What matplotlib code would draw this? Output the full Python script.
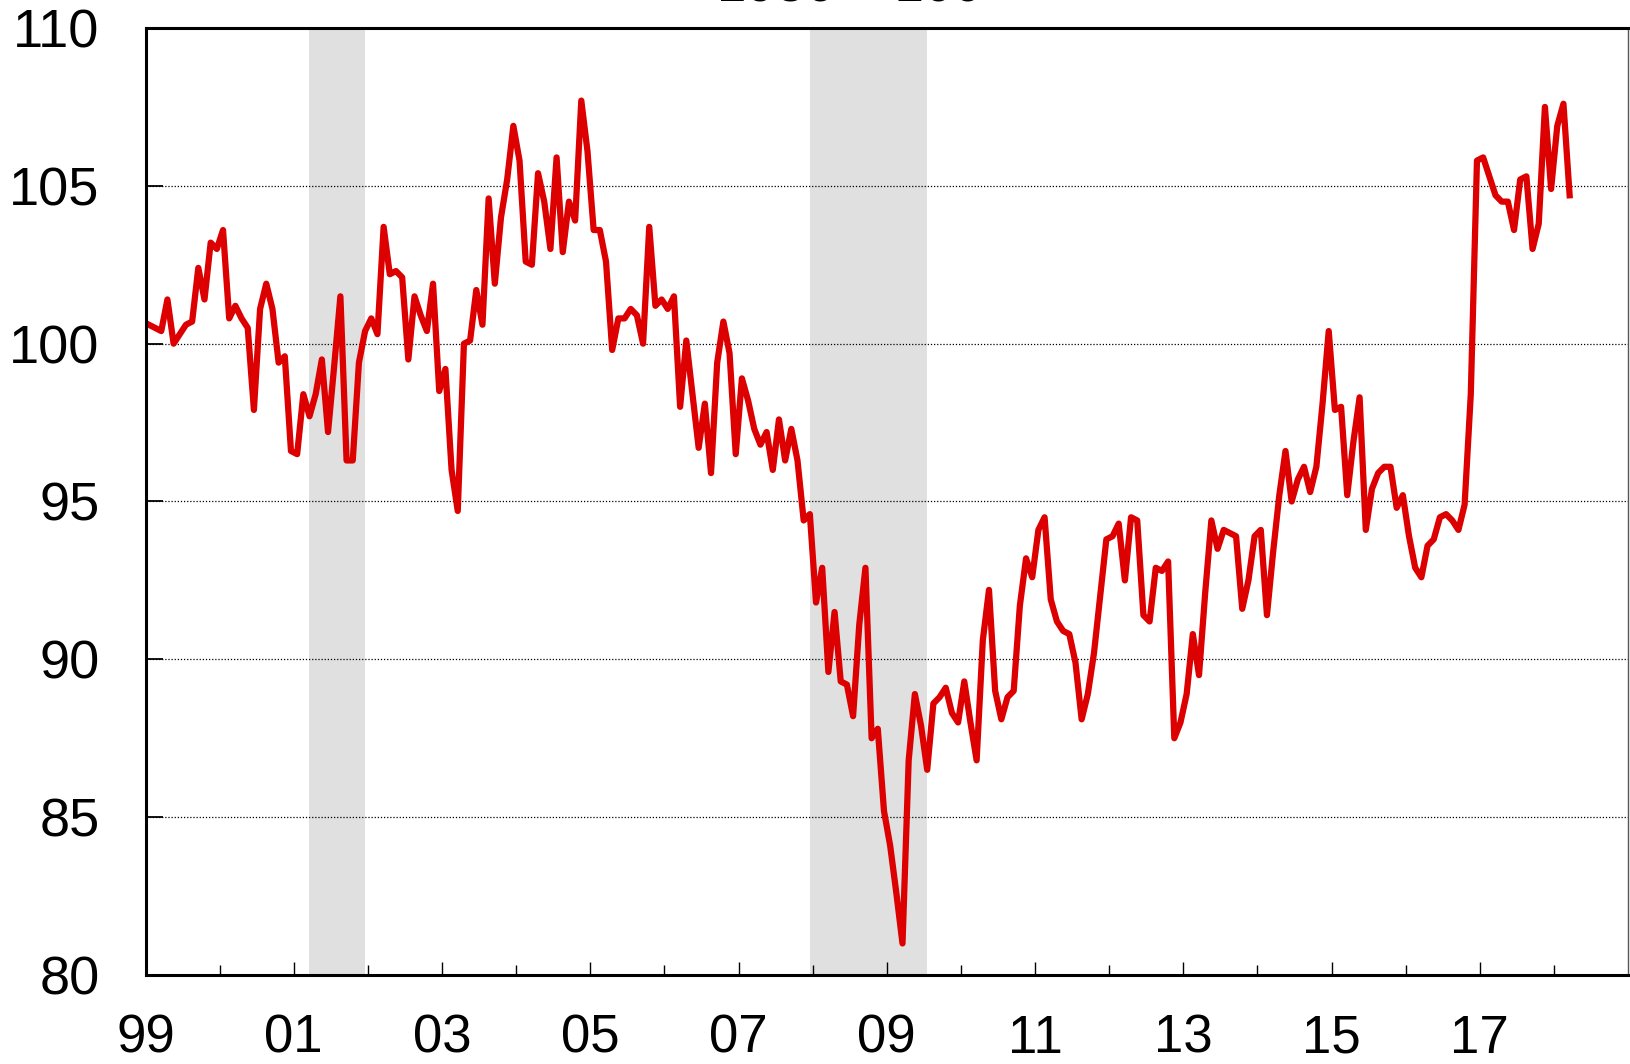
import numpy as np
import pandas as pd
import matplotlib
matplotlib.use("Agg")
import matplotlib.pyplot as plt
from matplotlib.ticker import FixedLocator, NullFormatter

plt.rcParams["font.family"] = ["Liberation Sans", "DejaVu Sans"]

# Small business optimism index, monthly values starting Jan 1999
first_month = "1999-01"
optimism_index = [
    # 1999
    100.6, 100.5, 100.4, 101.4, 100.0, 100.3, 100.6, 100.7, 102.4, 101.4, 103.2, 103.0,
    # 2000
    103.6, 100.8, 101.2, 100.8, 100.5, 97.9, 101.1, 101.9, 101.1, 99.4, 99.6, 96.6,
    # 2001
    96.5, 98.4, 97.7, 98.4, 99.5, 97.2, 99.3, 101.5, 96.3, 96.3, 99.4, 100.4,
    # 2002
    100.8, 100.3, 103.7, 102.2, 102.3, 102.1, 99.5, 101.5, 100.9, 100.4, 101.9, 98.5,
    # 2003
    99.2, 96.0, 94.7, 100.0, 100.1, 101.7, 100.6, 104.6, 101.9, 104.0, 105.2, 106.9,
    # 2004
    105.8, 102.6, 102.5, 105.4, 104.5, 103.0, 105.9, 102.9, 104.5, 103.9, 107.7, 106.1,
    # 2005
    103.6, 103.6, 102.6, 99.8, 100.8, 100.8, 101.1, 100.9, 100.0, 103.7, 101.2, 101.4,
    # 2006
    101.1, 101.5, 98.0, 100.1, 98.4, 96.7, 98.1, 95.9, 99.4, 100.7, 99.7, 96.5,
    # 2007
    98.9, 98.2, 97.3, 96.8, 97.2, 96.0, 97.6, 96.3, 97.3, 96.3, 94.4, 94.6,
    # 2008
    91.8, 92.9, 89.6, 91.5, 89.3, 89.2, 88.2, 91.1, 92.9, 87.5, 87.8, 85.2,
    # 2009
    84.1, 82.6, 81.0, 86.8, 88.9, 87.9, 86.5, 88.6, 88.8, 89.1, 88.3, 88.0,
    # 2010
    89.3, 88.0, 86.8, 90.6, 92.2, 89.0, 88.1, 88.8, 89.0, 91.7, 93.2, 92.6,
    # 2011
    94.1, 94.5, 91.9, 91.2, 90.9, 90.8, 89.9, 88.1, 88.9, 90.2, 92.0, 93.8,
    # 2012
    93.9, 94.3, 92.5, 94.5, 94.4, 91.4, 91.2, 92.9, 92.8, 93.1, 87.5, 88.0,
    # 2013
    88.9, 90.8, 89.5, 92.1, 94.4, 93.5, 94.1, 94.0, 93.9, 91.6, 92.5, 93.9,
    # 2014
    94.1, 91.4, 93.4, 95.2, 96.6, 95.0, 95.7, 96.1, 95.3, 96.1, 98.1, 100.4,
    # 2015
    97.9, 98.0, 95.2, 96.9, 98.3, 94.1, 95.4, 95.9, 96.1, 96.1, 94.8, 95.2,
    # 2016
    93.9, 92.9, 92.6, 93.6, 93.8, 94.5, 94.6, 94.4, 94.1, 94.9, 98.4, 105.8,
    # 2017
    105.9, 105.3, 104.7, 104.5, 104.5, 103.6, 105.2, 105.3, 103.0, 103.8, 107.5, 104.9,
    # 2018
    106.9, 107.6, 104.7,
]

# Recessions (grey bars), first and last month
recession_start = ["2001-03", "2007-12"]
recession_end = ["2001-11", "2009-06"]

# Axis ticks and labels
x_tick_years = list(range(1999, 2019, 2))
x_tick_labels = ["99", "01", "03", "05", "07", "09", "11", "13", "15", "17"]
x_minor_years = list(range(2000, 2019, 2))
y_ticks = [80, 85, 90, 95, 100, 105, 110]
title_text = "1986 = 100"

# Convert months to fractional years (middle of month)
months = pd.period_range(first_month, periods=len(optimism_index), freq="M")
x_vals = months.year + (months.month - 0.45) / 12.0

fig = plt.figure(figsize=(16.3, 10.64), dpi=100)
ax = fig.add_axes([145.5 / 1630, 1 - 975 / 1064, (1628 - 145.5) / 1630, (975 - 28) / 1064])

# Shaded recession periods
for start, end in zip(recession_start, recession_end):
    p0 = pd.Period(start, freq="M")
    p1 = pd.Period(end, freq="M")
    x0 = p0.year + (p0.month - 0.5) / 12.0
    x1 = p1.year + (p1.month + 0.5) / 12.0
    ax.axvspan(x0, x1, color="#e0e0e0", lw=0, zorder=1)

# Dotted gridlines
ax.yaxis.grid(True, linestyle=(0, (1, 1.5)), color="black", linewidth=0.9, zorder=2)
ax.set_axisbelow(False)

ax.plot(x_vals, optimism_index, color="#dc0000", linewidth=4.5, zorder=3)

ax.set_xlim(1999, 2019)
ax.set_ylim(80, 110)

ax.xaxis.set_major_locator(FixedLocator(x_tick_years))
ax.set_xticklabels(x_tick_labels)
ax.xaxis.set_minor_locator(FixedLocator(x_minor_years))
ax.xaxis.set_minor_formatter(NullFormatter())
ax.set_yticks(y_ticks)
ax.set_yticklabels([str(v) for v in y_ticks])

ax.tick_params(axis="y", direction="in", length=12, width=1.3, labelsize=39, pad=33)
ax.tick_params(axis="x", which="major", direction="in", length=9.5, width=1, labelsize=38, pad=28)
ax.tick_params(axis="x", which="minor", direction="in", length=7, width=1)

for side in ["left", "bottom", "top"]:
    ax.spines[side].set_linewidth(2.2)
    ax.spines[side].set_zorder(4)
ax.spines["right"].set_linewidth(1.0)
ax.spines["right"].set_color("#555555")

# Title mostly cut off at the top edge, as in the source
fig.text(850 / 1630, 1 - 1 / 1064, title_text, ha="center", va="baseline", fontsize=38)

plt.savefig("out.png", dpi=100)
plt.close()
